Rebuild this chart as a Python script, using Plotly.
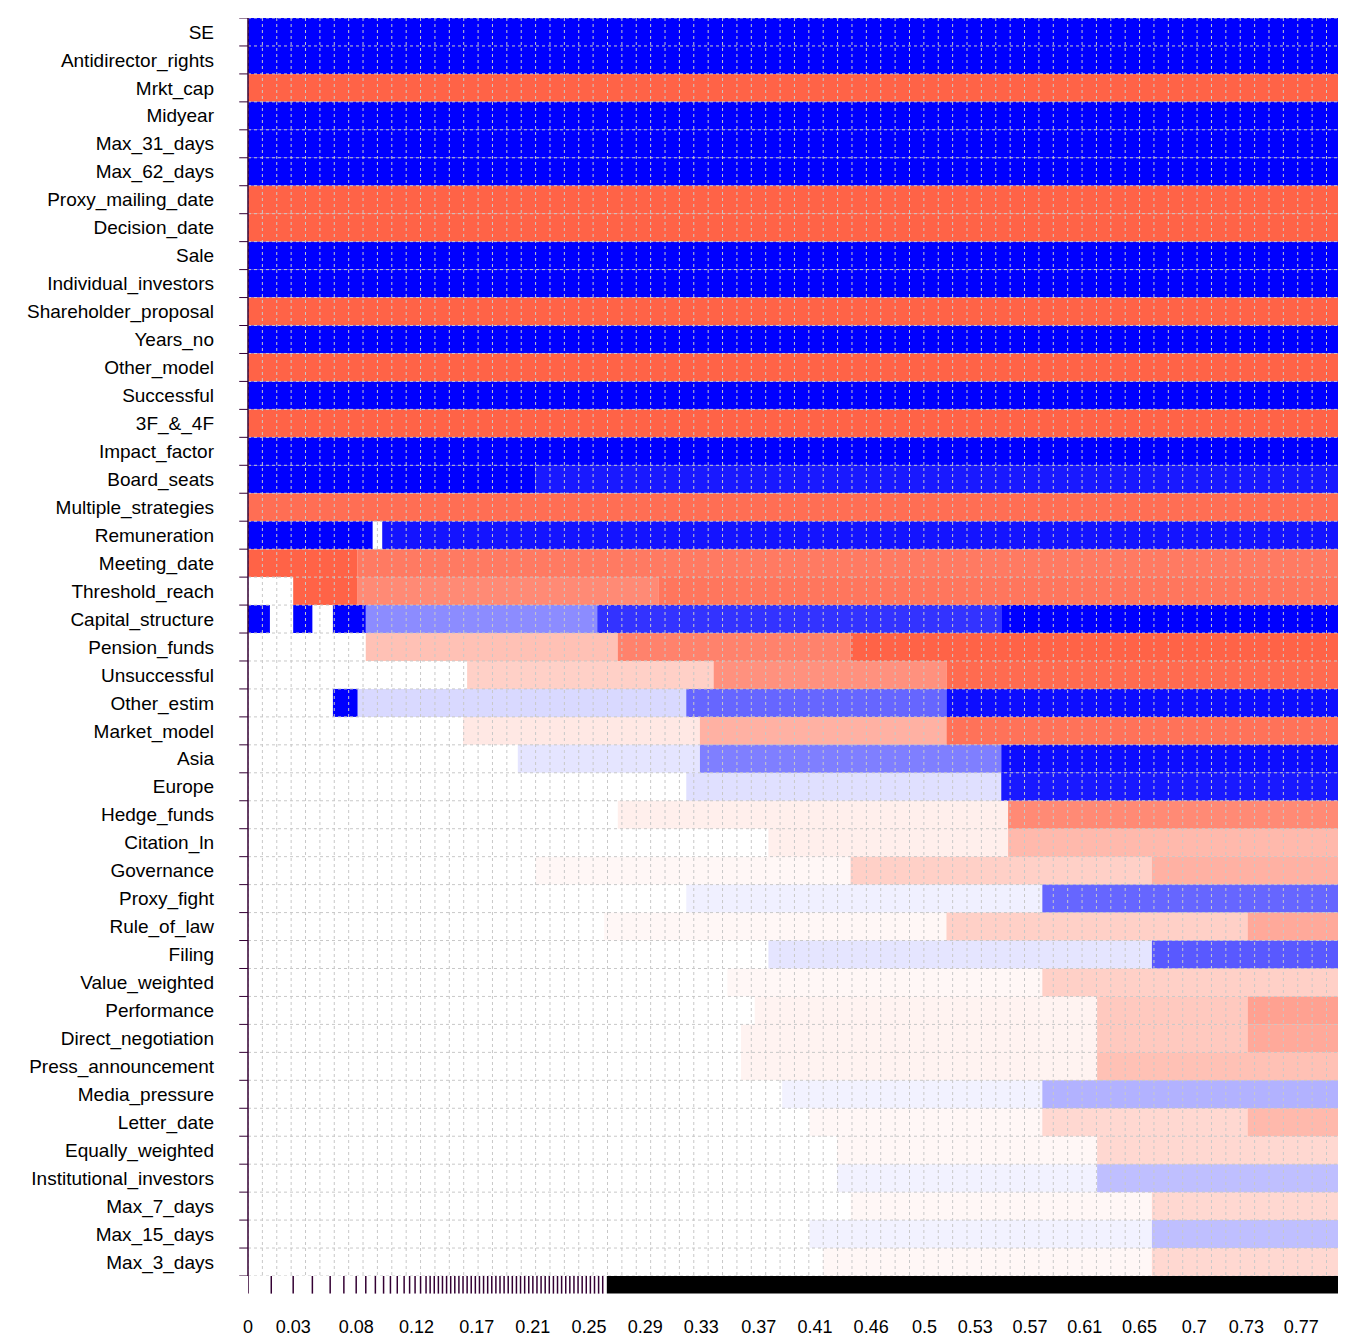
import plotly.graph_objects as go

variables = ["SE","Antidirector_rights","Mrkt_cap","Midyear","Max_31_days","Max_62_days",
 "Proxy_mailing_date","Decision_date","Sale","Individual_investors","Shareholder_proposal",
 "Years_no","Other_model","Successful","3F_&_4F","Impact_factor","Board_seats",
 "Multiple_strategies","Remuneration","Meeting_date","Threshold_reach","Capital_structure",
 "Pension_funds","Unsuccessful","Other_estim","Market_model","Asia","Europe","Hedge_funds",
 "Citation_ln","Governance","Proxy_fight","Rule_of_law","Filing","Value_weighted",
 "Performance","Direct_negotiation","Press_announcement","Media_pressure","Letter_date",
 "Equally_weighted","Institutional_investors","Max_7_days","Max_15_days","Max_3_days"]
signs = ["+","+","-","+","+","+","-","-","+","+","-","+","-","+","-","+","+","-","+","-","-","+",
 "-","-","+","-","+","+","-","-","-","+","-","+","-","-","-","-","+","-","-","+","-","+","-"]
# segments per variable: (start, end, inclusion density) in cumulative model probability
segments = [
 [(0,0.801,1)]]*16 + [
 [(0,0.21,1),(0.21,0.801,0.9)],
 [(0,0.801,0.93)],
 [(0,0.091,1),(0.098,0.801,0.92)],
 [(0,0.08,1),(0.08,0.801,0.85)],
 [(0.033,0.08,1),(0.08,0.30,0.75),(0.30,0.801,0.88)],
 [(0,0.016,1),(0.033,0.047,1),(0.062,0.086,1),(0.086,0.255,0.45),(0.255,0.55,0.8),(0.55,0.801,1)],
 [(0.086,0.27,0.4),(0.27,0.44,0.8),(0.44,0.801,1)],
 [(0.16,0.34,0.3),(0.34,0.51,0.7),(0.51,0.801,0.95)],
 [(0.062,0.08,1),(0.08,0.32,0.15),(0.32,0.51,0.6),(0.51,0.801,0.95)],
 [(0.157,0.33,0.15),(0.33,0.51,0.5),(0.51,0.801,0.9)],
 [(0.197,0.33,0.1),(0.33,0.55,0.5),(0.55,0.801,0.95)],
 [(0.32,0.55,0.12),(0.55,0.801,0.9)],
 [(0.27,0.555,0.1),(0.555,0.801,0.75)],
 [(0.38,0.555,0.1),(0.555,0.801,0.45)],
 [(0.21,0.44,0.05),(0.44,0.66,0.3),(0.66,0.801,0.5)],
 [(0.32,0.58,0.06),(0.58,0.801,0.6)],
 [(0.26,0.51,0.05),(0.51,0.73,0.3),(0.73,0.801,0.55)],
 [(0.38,0.66,0.1),(0.66,0.801,0.65)],
 [(0.35,0.58,0.05),(0.58,0.801,0.3)],
 [(0.37,0.62,0.08),(0.62,0.73,0.35),(0.73,0.801,0.6)],
 [(0.36,0.62,0.08),(0.62,0.73,0.35),(0.73,0.801,0.55)],
 [(0.36,0.62,0.08),(0.62,0.801,0.4)],
 [(0.39,0.58,0.05),(0.58,0.801,0.3)],
 [(0.41,0.58,0.05),(0.58,0.73,0.25),(0.73,0.801,0.45)],
 [(0.43,0.62,0.05),(0.62,0.801,0.25)],
 [(0.43,0.62,0.05),(0.62,0.801,0.25)],
 [(0.44,0.66,0.05),(0.66,0.801,0.25)],
 [(0.41,0.66,0.05),(0.66,0.801,0.25)],
 [(0.42,0.66,0.05),(0.66,0.801,0.25)],
]
tick_vals = [0,0.033,0.079,0.123,0.167,0.208,0.249,0.29,0.331,0.373,0.414,0.455,0.494,0.531,0.571,0.611,0.651,0.691,0.729,0.769]
tick_text = ["0","0.03","0.08","0.12","0.17","0.21","0.25","0.29","0.33","0.37","0.41","0.46","0.5","0.53","0.57","0.61","0.65","0.7","0.73","0.77"]
model_bounds = [0.017,0.033,0.047,0.060,0.070,0.079,0.086,0.093,0.099,0.104,0.109,0.114,0.118,
 0.122,0.126,0.130,0.133,0.136,0.139,0.142,0.145,0.148,0.151,0.154,0.157,0.160,0.163,0.166,
 0.169,0.172,0.175,0.178,0.181,0.184,0.187,0.190,0.193,0.196,0.199,0.202,0.205,0.208,0.211,
 0.214,0.217,0.220,0.223,0.226,0.229,0.232,0.235,0.238,0.241,0.244,0.247,0.250,0.253,0.256,0.259]
dense_start = 0.262
xmax = 0.801
BLUE, RED = "#0000FF", "#FF6347"

n = len(variables)
shapes = []
for i, (segs, s) in enumerate(zip(segments, signs)):
    col = BLUE if s == "+" else RED
    for x0, x1, d in segs:
        shapes.append(dict(type="rect", x0=x0, x1=x1, y0=i-0.5, y1=i+0.5, fillcolor=col,
                           opacity=d, line_width=0, layer="below"))
for i in range(n + 1):
    shapes.append(dict(type="line", x0=0, x1=xmax, y0=i-0.5, y1=i-0.5,
                       line=dict(color="#c8c8c8", width=1, dash="dot")))
    shapes.append(dict(type="line", xref="paper", x0=0, x1=-0.008, y0=i-0.5, y1=i-0.5,
                       line=dict(color="#330033", width=1)))
k = 0.0
while k < xmax:
    shapes.append(dict(type="line", x0=k, x1=k, y0=-0.5, y1=n-0.5,
                       line=dict(color="#c8c8c8", width=1, dash="dot")))
    k += 0.0105
for b in [0] + model_bounds:
    shapes.append(dict(type="line", x0=b, x1=b, yref="paper", y0=0, y1=-0.014,
                       line=dict(color="#330033", width=1.5)))
shapes.append(dict(type="rect", x0=dense_start, x1=xmax, yref="paper", y0=0, y1=-0.014,
                   fillcolor="black", line_width=0))
shapes.append(dict(type="line", xref="paper", x0=0, x1=0, y0=-0.5, y1=n-0.5,
                   line=dict(color="#330033", width=1.5)))

fig = go.Figure(go.Scatter(x=[0], y=[0], mode="markers", marker=dict(opacity=0), hoverinfo="skip"))
fig.update_layout(
    width=1346, height=1338, margin=dict(l=240, r=9, t=10, b=70, autoexpand=False),
    plot_bgcolor="white", paper_bgcolor="white", showlegend=False, shapes=shapes,
    font=dict(family="Liberation Sans, Arial", size=19, color="black"),
    xaxis=dict(range=[0, xmax], tickvals=tick_vals, ticktext=tick_text, showgrid=False,
               zeroline=False, ticks="", ticklabelstandoff=38, tickfont=dict(size=18),
               automargin=False),
    yaxis=dict(range=[n-0.5, -0.5], tickvals=list(range(n)), ticktext=variables,
               showgrid=False, zeroline=False, ticks="", ticklabelstandoff=33, automargin=False),
)
fig.write_html("out.html")
